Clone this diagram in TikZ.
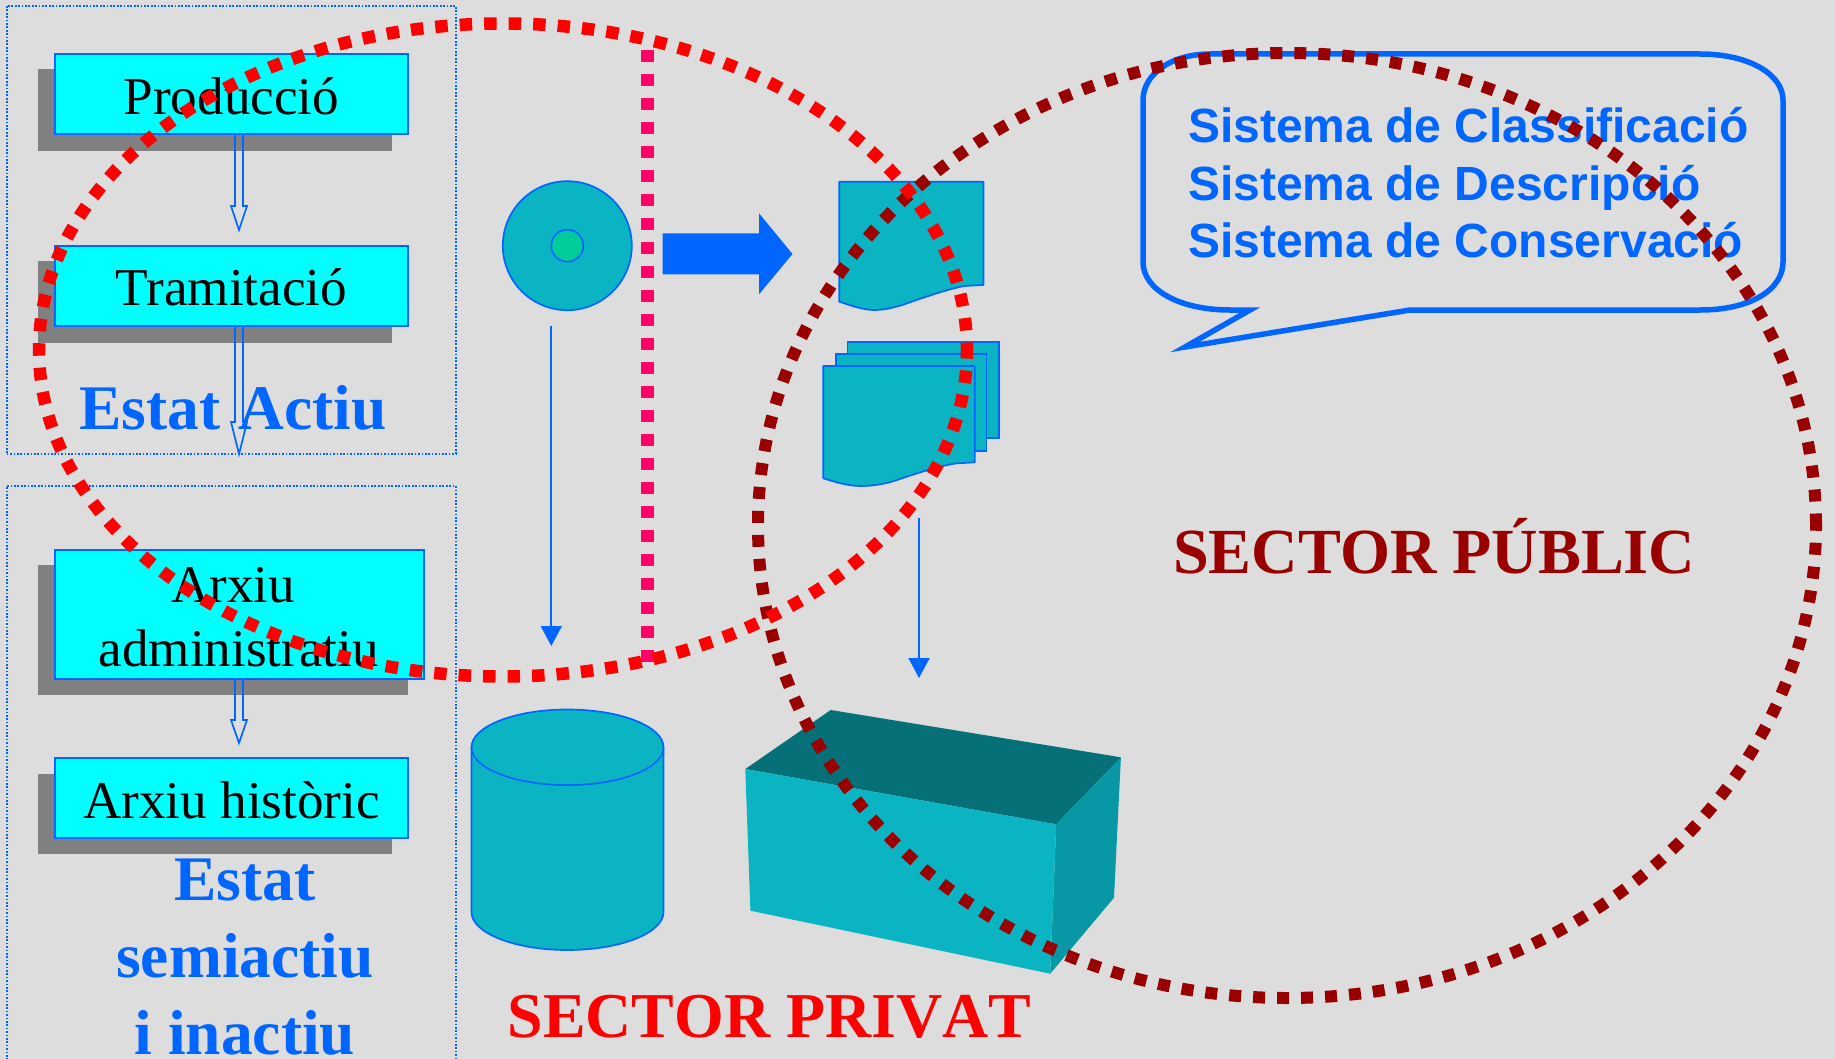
\documentclass[tikz,border=0pt]{standalone}
\usepackage{fontspec}
\setmainfont{Liberation Serif}
\setsansfont{Liberation Sans}
\usetikzlibrary{arrows.meta,calc,shapes.geometric}
\definecolor{bgc}{HTML}{DDDDDD}
\definecolor{lineblue}{HTML}{0066FF}
\definecolor{boxcyan}{HTML}{00FFFF}
\definecolor{teal1}{HTML}{0AB4C2}
\definecolor{teal2}{HTML}{067079}
\definecolor{teal3}{HTML}{0898A5}
\definecolor{innergreen}{HTML}{00CC99}
\definecolor{pinkc}{HTML}{FF0066}
\definecolor{darkred}{HTML}{990000}
\definecolor{shadowc}{HTML}{808080}
\tikzset{
 x=1pt,y=-1pt,
 groupbox/.style={draw=lineblue,line width=1.7pt,dash pattern=on 1.7pt off 1.7pt,anchor=north west,inner sep=0pt,outer sep=0pt},
 shadowbox/.style={fill=shadowc,anchor=north west,inner sep=0pt,outer sep=0pt,minimum width=354pt},
 flowbox/.style={draw=lineblue,line width=1.7pt,fill=boxcyan,anchor=north west,inner sep=0pt,outer sep=0pt,minimum width=353pt,font=\fontsize{53.2}{53}\selectfont,text height=38pt,text depth=0pt},
 hollow/.style={draw=lineblue,line width=1.7pt,line join=miter},
 thinarrow/.style={draw=lineblue,line width=1.7pt,-{Triangle[length=20pt,width=21pt]}},
 tealshape/.style={draw=lineblue,line width=1.7pt,fill=teal1},
 stateblue/.style={text=lineblue,font=\fontsize{63.5}{76}\selectfont\bfseries,align=center,inner sep=0pt},
 blacklabel/.style={font=\fontsize{53}{64}\selectfont,align=center,inner sep=0pt},
 sectorlabel/.style={font=\fontsize{64.3}{64}\selectfont\bfseries,inner sep=0pt,anchor=base west},
 sysline/.style={text=lineblue,font=\fontsize{48}{48}\selectfont\sffamily\bfseries,inner sep=0pt,anchor=base west},
}
\newcommand{\hollowarrow}[3]{%
 \draw[hollow] ($(#1)+(-4,0)$) -- ($(#2)+(-4,-#3)$) -- ($(#2)+(-8,-#3)$) -- (#2) -- ($(#2)+(8,-#3)$) -- ($(#2)+(4,-#3)$) -- ($(#1)+(4,0)$);}
\begin{document}
\begin{tikzpicture}
\useasboundingbox (0,0) rectangle (1835,1059);
\fill[bgc] (0,0) rectangle (1835,1059);
% group frames
\node[groupbox,minimum width=449pt,minimum height=448pt] (g1) at (6.7,5.7) {};
\node[groupbox,minimum width=449pt,minimum height=590pt] (g2) at (6.7,486) {};
% shadows
\node[shadowbox,minimum height=82pt] (s1) at (38,69) {};
\node[shadowbox,minimum height=82pt] (s2) at (38,261) {};
\node[shadowbox,minimum width=370pt,minimum height=130pt] (s3) at (38,565) {};
\node[shadowbox,minimum height=80pt] (s4) at (38,774) {};
% boxes
\node[flowbox,minimum height=80pt,text height=42pt] (prod) at (55,54) {Producció};
\node[flowbox,minimum height=80pt] (tram) at (55,246) {Tramitació};
\node[flowbox,minimum width=369pt,minimum height=129pt] (adm) at (55,550) {};
\node[blacklabel] (admt) at (238.7,617) {\hspace*{-11pt}Arxiu\\administratiu};
\node[flowbox,minimum height=80pt,text height=40pt] (hist) at (55,758) {Arxiu històric};
% hollow arrows
\coordinate (a1s) at (239,134);\coordinate (a1e) at (239,230);
\coordinate (a2s) at (239,326);\coordinate (a2e) at (239,454);
\coordinate (a3s) at (239,679);\coordinate (a3e) at (239,743);
\hollowarrow{a1s}{a1e}{24}
\hollowarrow{a2s}{a2e}{32}
\hollowarrow{a3s}{a3e}{23}
% state labels
\node[stateblue,anchor=base] (est1) at (233,429) {Estat\hspace{18pt}Actiu};
\node[stateblue,anchor=base] (est2a) at (245,900) {Estat};
\node[stateblue,anchor=base] (est2b) at (245,977) {semiactiu};
\node[stateblue,anchor=base] (est2c) at (245,1054.5) {i inactiu};
% disc
\node[circle,tealshape,outer sep=0pt,minimum size=129pt,inner sep=0pt] (disc) at (567.3,245.7) {};
\node[circle,draw=lineblue,line width=1.7pt,fill=innergreen,outer sep=0pt,minimum size=32pt,inner sep=0pt] (hole) at (disc.center) {};
% pink divider
\coordinate (pa) at (647.4,50);\coordinate (pb) at (647.4,668);
\draw[pinkc,line width=13pt,dash pattern=on 12pt off 12pt] (pa) -- (pb);
% block arrow
\fill[lineblue] (662.5,233.3) -- (759,233.3) -- (759,213.3) -- (792.5,254) -- (759,294.3) -- (759,274.3) -- (662.5,274.3) -- cycle;
% single document
\draw[tealshape,line join=round] (839.2,181.7) -- (983.4,181.7) -- (983.4,285) -- (964,286)
  .. controls (945,290) and (925,297) .. (908,303) .. controls (897,307) and (885,310) .. (874.3,310)
  .. controls (862,310) and (850,305) .. (839.2,301.7) -- cycle;
% stacked documents
\draw[tealshape] (847.4,341.7) rectangle (999.3,438.3);
\draw[tealshape] (835.7,354) rectangle (986.5,450.7);
\draw[tealshape,line join=round] (823.3,366) -- (974.8,366) -- (974.8,462.3) -- (955,463.5)
  .. controls (935,467) and (915,474) .. (897,480) .. controls (885,484) and (873,486) .. (860.5,486)
  .. controls (848,486) and (835,482) .. (823.3,478.3) -- cycle;
% thin arrows
\coordinate (b1s) at (551.3,326);\coordinate (b1e) at (551.3,646);
\coordinate (b2s) at (919,518);\coordinate (b2e) at (919,678);
\draw[thinarrow] (b1s) -- (b1e);
\draw[thinarrow] (b2s) -- (b2e);
% cylinder
\draw[tealshape] (471.5,747.3) -- (471.5,912) arc[start angle=180,end angle=360,x radius=96pt,y radius=38pt] -- (663.5,747.3);
\draw[tealshape] (567.5,747.3) ellipse [x radius=96pt,y radius=37.8pt];
% solid box
\fill[teal2] (745.3,769) -- (830.7,710) -- (1120.9,757.3) -- (1056.2,824.3) -- cycle;
\fill[teal3] (1056.2,824.3) -- (1120.9,757.3) -- (1114,897.7) -- (1050.2,973.7) -- cycle;
\fill[teal1] (745.3,769) -- (1056.2,824.3) -- (1050.2,973.7) -- (750.4,910.7) -- cycle;
% sector labels
\node[sectorlabel,text=red,font=\fontsize{63.9}{64}\selectfont\bfseries] (spriv) at (507.5,1037) {\addfontfeature{Kerning=Off}SECTOR PRIVAT};
\node[sectorlabel,text=darkred] (spub) at (1173,573) {SECTOR PÚBLIC};
% callout
\draw[draw=lineblue,line width=5.5pt,line join=miter] (1210,54) -- (1700,54)
  .. controls (1750,54) and (1783,75) .. (1783,100) -- (1783,262)
  .. controls (1783,290) and (1750,310) .. (1700,310) -- (1410,310) -- (1185,347) -- (1250,310) -- (1230,310)
  .. controls (1180,310) and (1143,290) .. (1143,262) -- (1143,100)
  .. controls (1143,75) and (1170,54) .. (1210,54) -- cycle;
\node[sysline] (sys1) at (1188,142.5) {Sistema de Classificació};
\node[sysline] (sys2) at (1188,200.8) {Sistema de Descripció};
\node[sysline] (sys3) at (1188,257.5) {Sistema de Conservació};
% dotted ellipses
\coordinate (ec2) at (1287,525.5);
\draw[darkred,line width=12pt,dash pattern=on 12pt off 12pt] (ec2) ellipse [x radius=529pt,y radius=472.5pt];
\coordinate (ec1) at (503,350);
\draw[red,line width=12.5pt,dash pattern=on 12.5pt off 12pt,dash phase=5pt] (ec1) ellipse [x radius=464pt,y radius=326.5pt];
\end{tikzpicture}
\end{document}
